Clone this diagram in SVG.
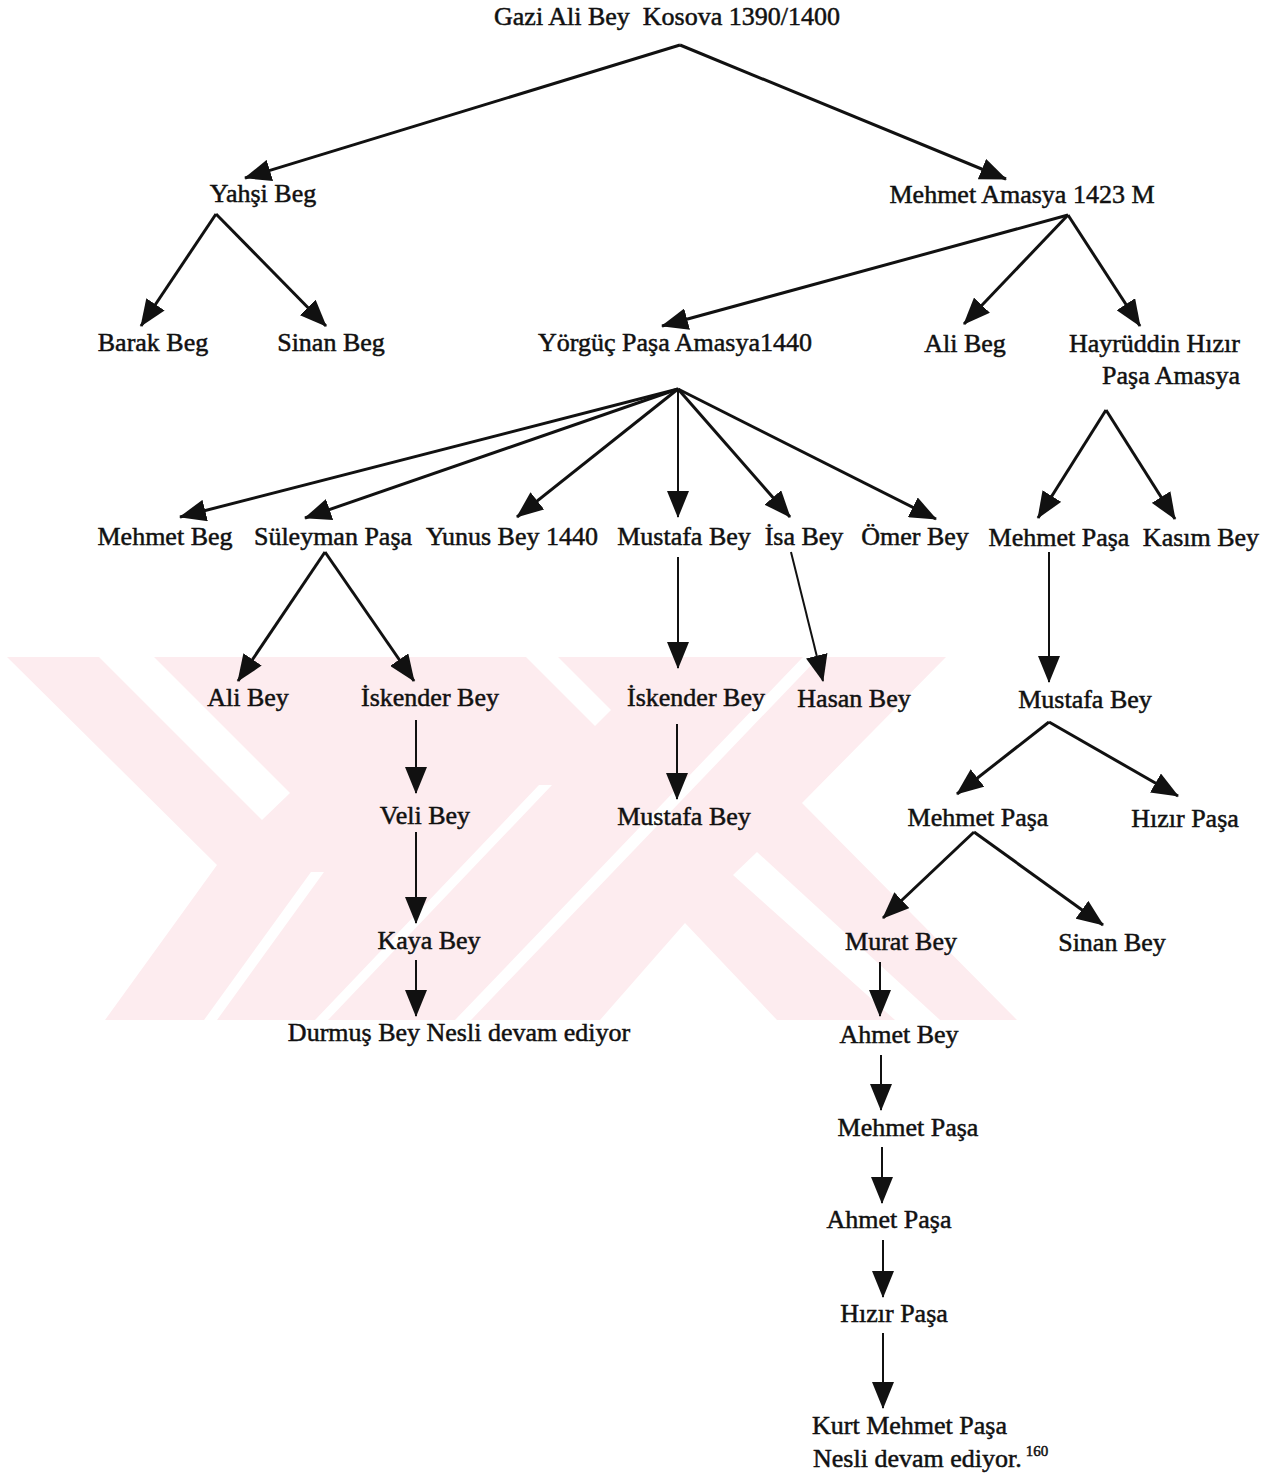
<svg xmlns="http://www.w3.org/2000/svg" width="1287" height="1477" viewBox="0 0 1287 1477">
<defs>
<style>
.lbl{font-family:"Liberation Serif","Times New Roman",serif;font-size:26px;fill:#111;stroke:#111;stroke-width:0.5px}
.m{text-anchor:middle}
.e{text-anchor:end}
.c{stroke:#111;stroke-width:3;fill:none;marker-end:url(#ah)}
.t{stroke-width:2}
.wm{fill:#fdecef}
.wg{fill:#ffffff}
</style>
<marker id="ah" markerUnits="userSpaceOnUse" markerWidth="27" markerHeight="22" refX="26" refY="11" orient="auto">
<path d="M0,0 L27,11 L0,22 z" fill="#111"/>
</marker>
</defs>
<rect width="1287" height="1477" fill="#ffffff"/>
<g id="watermark">
<polygon class="wm" points="7,657 946,657 802,803 1017,1020 105,1020 217,865"/>
<polygon class="wg" points="99,657 154,657 290,793 262,820"/>
<polygon class="wg" points="685,923 600,1020 777,1020"/>
<polygon class="wg" points="733,875 757,852 940,1020 895,1020"/>
<polygon class="wg" points="526,657 558,657 611,710 595,726"/>
<polygon class="wg" points="803,657 819,657 471,1020 455,1020"/>
<polygon class="wg" points="315,1020 328,1020 552,785 539,785"/>
<polygon class="wg" points="204,1020 217,1020 324,872 311,872"/>
</g>
<g id="connectors">
<path class="c" d="M680,45 L245,178"/>
<path class="c" d="M680,45 L1006,179"/>
<path class="c" d="M216,214 L141,326"/>
<path class="c" d="M216,214 L326,326"/>
<path class="c" d="M1068,215 L662,326"/>
<path class="c" d="M1068,215 L964,324"/>
<path class="c" d="M1068,215 L1140,326"/>
<path class="c" d="M678,389 L180,517"/>
<path class="c" d="M678,389 L305,518"/>
<path class="c" d="M678,389 L517,517"/>
<path class="c t" d="M678,389 L678,517"/>
<path class="c" d="M678,389 L790,517"/>
<path class="c" d="M678,389 L936,519"/>
<path class="c" d="M1106,410 L1038,518"/>
<path class="c" d="M1106,410 L1175,519"/>
<path class="c" d="M325,552 L238,681"/>
<path class="c" d="M325,552 L414,681"/>
<path class="c t" d="M678,557 L678,668"/>
<path class="c t" d="M791,552 L823,681"/>
<path class="c t" d="M1049,552 L1049,682"/>
<path class="c t" d="M416,720 L416,793"/>
<path class="c t" d="M416,832 L416,923"/>
<path class="c t" d="M416,960 L416,1016"/>
<path class="c t" d="M677,724 L677,799"/>
<path class="c" d="M1049,722 L957,794"/>
<path class="c" d="M1049,722 L1178,796"/>
<path class="c" d="M974,832 L883,918"/>
<path class="c" d="M974,832 L1103,925"/>
<path class="c t" d="M880,962 L880,1016"/>
<path class="c t" d="M881,1055 L881,1110"/>
<path class="c t" d="M882,1147 L882,1203"/>
<path class="c t" d="M883,1240 L883,1297"/>
<path class="c t" d="M883,1333 L883,1408"/>
</g>
<g id="n-gazi"><text class="lbl m" x="667" y="25" xml:space="preserve">Gazi Ali Bey  Kosova 1390/1400</text></g>
<g id="n-yahsi"><text class="lbl m" x="263" y="202">Yahşi Beg</text></g>
<g id="n-mehmet-amasya"><text class="lbl m" x="1022" y="203">Mehmet Amasya 1423 M</text></g>
<g id="n-barak"><text class="lbl m" x="153" y="351">Barak Beg</text></g>
<g id="n-sinan-beg"><text class="lbl m" x="331" y="351">Sinan Beg</text></g>
<g id="n-yorguc"><text class="lbl m" x="675" y="351">Yörgüç Paşa Amasya1440</text></g>
<g id="n-ali-beg"><text class="lbl m" x="965" y="352">Ali Beg</text></g>
<g id="n-hayruddin"><text class="lbl e" x="1240" y="352">Hayrüddin Hızır</text><text class="lbl e" x="1240" y="384">Paşa Amasya</text></g>
<g id="n-mehmet-beg"><text class="lbl m" x="165" y="545">Mehmet Beg</text></g>
<g id="n-suleyman"><text class="lbl m" x="333" y="545">Süleyman Paşa</text></g>
<g id="n-yunus"><text class="lbl m" x="512" y="545">Yunus Bey 1440</text></g>
<g id="n-mustafa1"><text class="lbl m" x="684" y="545">Mustafa Bey</text></g>
<g id="n-isa"><text class="lbl m" x="804" y="545">İsa Bey</text></g>
<g id="n-omer"><text class="lbl m" x="915" y="545">Ömer Bey</text></g>
<g id="n-mehmet-pasa1"><text class="lbl m" x="1059" y="546">Mehmet Paşa</text></g>
<g id="n-kasim"><text class="lbl m" x="1201" y="546">Kasım Bey</text></g>
<g id="n-ali-bey"><text class="lbl m" x="248" y="706">Ali Bey</text></g>
<g id="n-iskender1"><text class="lbl m" x="430" y="706">İskender Bey</text></g>
<g id="n-iskender2"><text class="lbl m" x="696" y="706">İskender Bey</text></g>
<g id="n-hasan"><text class="lbl m" x="854" y="707">Hasan Bey</text></g>
<g id="n-mustafa2"><text class="lbl m" x="1085" y="708">Mustafa Bey</text></g>
<g id="n-veli"><text class="lbl m" x="425" y="824">Veli Bey</text></g>
<g id="n-mustafa3"><text class="lbl m" x="684" y="825">Mustafa Bey</text></g>
<g id="n-mehmet-pasa2"><text class="lbl m" x="978" y="826">Mehmet Paşa</text></g>
<g id="n-hizir1"><text class="lbl m" x="1185" y="827">Hızır Paşa</text></g>
<g id="n-kaya"><text class="lbl m" x="429" y="949">Kaya Bey</text></g>
<g id="n-murat"><text class="lbl m" x="901" y="950">Murat Bey</text></g>
<g id="n-sinan-bey"><text class="lbl m" x="1112" y="951">Sinan Bey</text></g>
<g id="n-durmus"><text class="lbl m" x="459" y="1041">Durmuş Bey Nesli devam ediyor</text></g>
<g id="n-ahmet-bey"><text class="lbl m" x="899" y="1043">Ahmet Bey</text></g>
<g id="n-mehmet-pasa3"><text class="lbl m" x="908" y="1136">Mehmet Paşa</text></g>
<g id="n-ahmet-pasa"><text class="lbl m" x="889" y="1228">Ahmet Paşa</text></g>
<g id="n-hizir2"><text class="lbl m" x="894" y="1322">Hızır Paşa</text></g>
<g id="n-kurt"><text class="lbl" x="812" y="1434">Kurt Mehmet Paşa</text><text class="lbl" x="813" y="1467">Nesli devam ediyor.<tspan font-size="15" dx="4" dy="-11">160</tspan></text></g>
</svg>
